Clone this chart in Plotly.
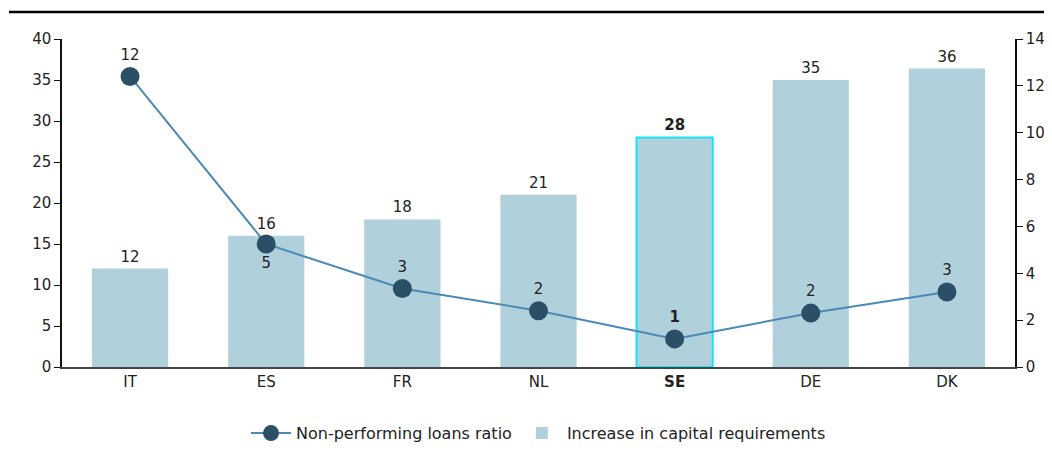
import plotly.graph_objects as go

countries = ["IT", "ES", "FR", "NL", "SE", "DE", "DK"]
capital_increase = [12, 16, 18, 21, 28, 35, 36.4]
npl_ratio = [12.4, 5.25, 3.35, 2.4, 1.2, 2.3, 3.2]
npl_labels = ["12", "5", "3", "2", "<b>1</b>", "2", "3"]
bar_labels = ["12", "16", "18", "21", "<b>28</b>", "35", "36"]
tick_labels = ["IT", "ES", "FR", "NL", "<b>SE</b>", "DE", "DK"]

FONT = "'DejaVu Sans', sans-serif"
bar_color = "#b0d0dc"
line_color = "#4a8ab4"
marker_color = "#2b4f66"

fig = go.Figure()
fig.add_trace(go.Bar(
    x=countries, y=capital_increase, name="Increase in capital requirements",
    marker=dict(color=bar_color,
                line=dict(color=["rgba(0,0,0,0)"] * 4 + ["#19e3f5"] + ["rgba(0,0,0,0)"] * 2,
                          width=2)),
    text=bar_labels, textposition="outside", cliponaxis=False,
    textfont=dict(size=15, color="#222", family=FONT),
    width=0.56, yaxis="y",
))
fig.add_trace(go.Scatter(
    x=countries, y=npl_ratio, name="Non-performing loans ratio",
    mode="lines+markers+text",
    line=dict(color=line_color, width=2),
    marker=dict(color=marker_color, size=19),
    text=npl_labels,
    textposition=["top center", "bottom center", "top center", "top center",
                  "top center", "top center", "top center"],
    textfont=dict(size=15, color="#222", family=FONT),
    cliponaxis=False,
    yaxis="y2",
))

fig.update_layout(
    width=1052, height=457,
    paper_bgcolor="white", plot_bgcolor="white",
    margin=dict(l=54, r=45, t=31, b=98),
    font=dict(family=FONT, size=15, color="#222"),
    showlegend=True,
    legend=dict(orientation="h", x=0.5, xanchor="center", y=-0.15, yanchor="top",
                traceorder="reversed", itemwidth=40,
                font=dict(size=16, color="#222")),
    xaxis=dict(tickmode="array", tickvals=countries, ticktext=tick_labels,
               showline=True, linecolor="#444", linewidth=2, ticks="",
               tickfont=dict(size=15, color="#222")),
    yaxis=dict(range=[0, 40], dtick=5, showgrid=False, showline=True,
               linecolor="#111", linewidth=1.5, ticks="outside", ticklen=6,
               tickcolor="#111", zeroline=False, tickfont=dict(size=15, color="#222")),
    yaxis2=dict(range=[0, 14], dtick=2, overlaying="y", side="right", showgrid=False,
                showline=True, linecolor="#111", linewidth=1.5, ticks="outside",
                ticklen=6, tickcolor="#111", zeroline=False,
                tickfont=dict(size=15, color="#222")),
    shapes=[dict(type="line", xref="paper", yref="paper", x0=-0.0556, x1=1.04,
                 y0=1.082, y1=1.082, line=dict(color="black", width=2.5))],
)

fig.write_html("out.html")
